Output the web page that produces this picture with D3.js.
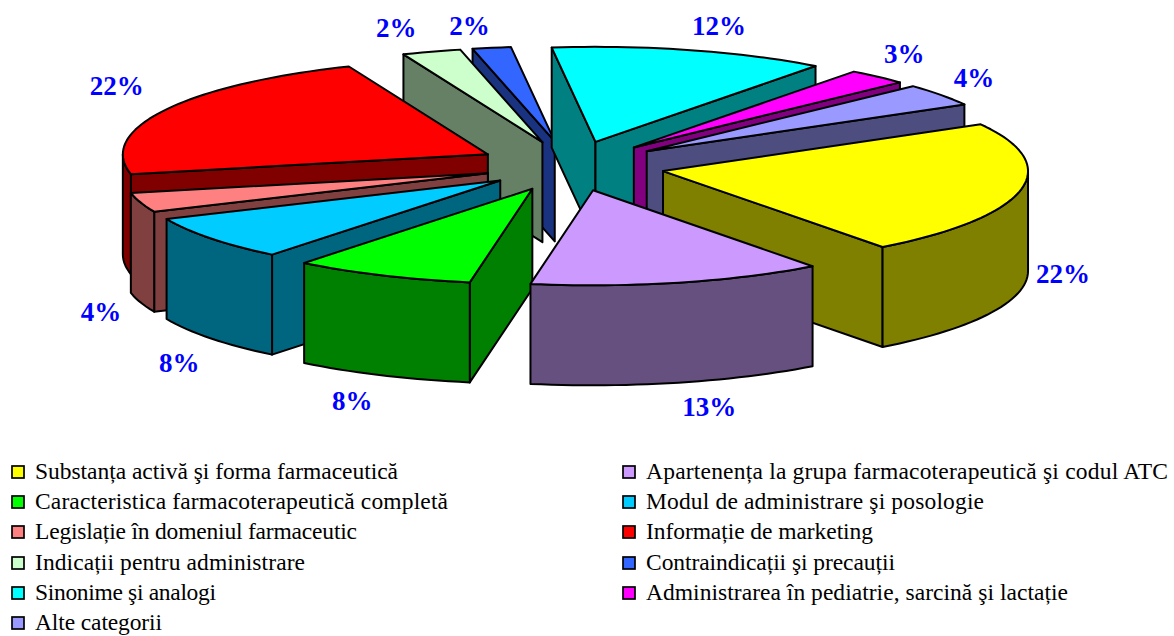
<!DOCTYPE html>
<html><head><meta charset="utf-8">
<script src="https://cdnjs.cloudflare.com/ajax/libs/d3/7.8.5/d3.min.js"></script>
<style>html,body{margin:0;background:#fff}svg{display:block}</style></head>
<body><svg id="c" width="1174" height="636"></svg>
<script>
const categories=["Substanța activă şi forma farmaceutică","Apartenența la grupa farmacoterapeutică şi codul ATC","Caracteristica farmacoterapeutică completă","Modul de administrare şi posologie","Legislație în domeniul farmaceutic","Informație de marketing","Indicații pentru administrare","Contraindicații şi precauții","Sinonime şi analogi","Administrarea în pediatrie, sarcină şi lactație","Alte categorii"];
const sliceValues=[22.9,13,8,7.6,3.3,22.1,2.6,1.7,12.2,2.7,3.8];
const valueLabels=["22%","13%","8%","8%","4%","22%","2%","2%","12%","3%","4%"];
const topColors=["#ffff00","#cc99ff","#00ff00","#00ccff","#ff8080","#ff0000","#ccffcc","#3366ff","#00ffff","#ff00ff","#9999ff"];
const wallColors=["#808000","#665080","#008000","#006680","#804040","#800000","#668066","#1a3380","#008080","#800080","#4d4d80"];
const explosion=[1,1,1,0.95,0.93,1,1,1,1,1,1];
const labelNudge=[[7,2],[22,-2],[-15,2],[-3,14],[-5,19],[-16,-20],[-24,-15],[-16,-12],[19,-15],[2,-16],[4,-11]];
const legendWidths=[363,522,413,338,322,227,270,249,181,422,127];

const svg=d3.select("#c");
const START=60.5*Math.PI/180, CX=571, CY=166, EX=94, EY=25, RX=365, RY=95, DEPTH=100;
const pie=d3.pie().sort(null).startAngle(START).endAngle(START+2*Math.PI);
const arcs=pie(sliceValues).map((d,i)=>{
  const mid=(d.startAngle+d.endAngle)/2, e=explosion[i];
  return {i,a0:d.startAngle,a1:d.endAngle,mid,ax:CX+e*EX*Math.sin(mid),ay:CY-e*EY*Math.cos(mid)};
});
const rim=(s,a)=>[s.ax+RX*Math.sin(a),s.ay-RY*Math.cos(a)];
const down=p=>[p[0],p[1]+DEPTH];
const line=d3.line();
const rimPts=(s,a0,a1)=>{const n=Math.max(2,Math.ceil((a1-a0)/0.03));return d3.range(n+1).map(k=>rim(s,a0+(a1-a0)*k/n));};

const order=arcs.slice().sort((a,b)=>a.ay-b.ay);
const g=svg.append("g").attr("stroke","#000").attr("stroke-width",2).attr("stroke-linejoin","round");
order.forEach(s=>{
  const apex=[s.ax,s.ay], wall=wallColors[s.i];
  const inner=rim(s,s.mid);
  const quad=a=>{
    const p=rim(s,a);
    // a radial wall shows only when the slice's own top lies above its edge
    const edgeY=apex[1]+(p[1]-apex[1])*(inner[0]-apex[0])/(p[0]-apex[0]);
    if(edgeY>inner[1]) g.append("path").attr("fill",wall).attr("d",line([apex,p,down(p),down(apex)])+"Z");
  };
  quad(s.a0); quad(s.a1);
  for(const [lo,hi] of [[Math.PI/2,3*Math.PI/2],[Math.PI/2+2*Math.PI,3*Math.PI/2+2*Math.PI]]){
    const f0=Math.max(s.a0,lo),f1=Math.min(s.a1,hi);
    if(f1>f0){const up=rimPts(s,f0,f1);g.append("path").attr("fill",wall).attr("d",line(up.concat(up.slice().reverse().map(down)))+"Z");}
  }
  g.append("path").attr("fill",topColors[s.i]).attr("d",line([apex].concat(rimPts(s,s.a0,s.a1)))+"Z");
});

arcs.forEach(s=>{
  const fc=Math.max(0,-Math.cos(s.mid));
  const x=s.ax+1.1*RX*Math.sin(s.mid)+labelNudge[s.i][0];
  const y=s.ay-1.1*RY*Math.cos(s.mid)+118*Math.pow(fc,0.25)+labelNudge[s.i][1];
  svg.append("text").attr("x",x).attr("y",y).attr("text-anchor","middle").attr("dominant-baseline","central")
    .attr("font-family","Liberation Serif").attr("font-weight","bold").attr("font-size",27).attr("fill","#0000ff").text(valueLabels[s.i]);
});

const rowY=[472,502,532,563,593,623], colX=[12,623];
categories.forEach((c,i)=>{
  const col=i%2,row=Math.floor(i/2),x=colX[col],y=rowY[row];
  svg.append("rect").attr("x",x).attr("y",y-6).attr("width",12).attr("height",12).attr("fill",topColors[i]).attr("stroke","#000").attr("stroke-width",1.7);
  svg.append("text").attr("x",x+23).attr("y",y+7).attr("font-family","Liberation Serif").attr("font-size",23.5).attr("fill","#000")
    .attr("textLength",legendWidths[i]).attr("lengthAdjust","spacing").text(c);
});
</script></body></html>
